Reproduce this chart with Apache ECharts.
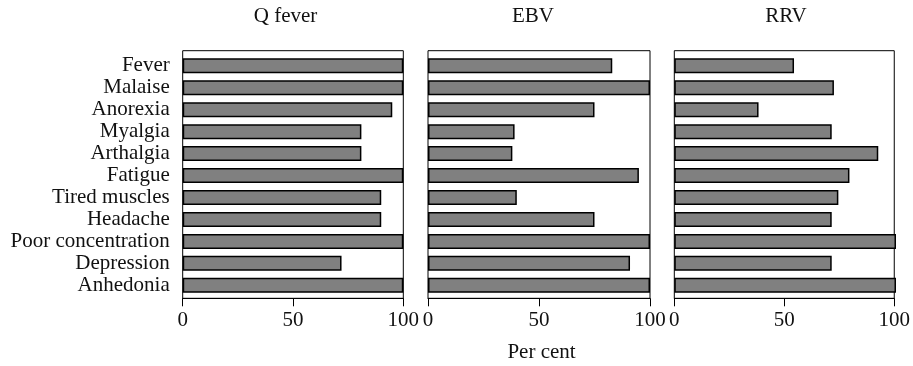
<!DOCTYPE html>
<html>
<head>
<meta charset="utf-8">
<script src="https://cdn.jsdelivr.net/npm/echarts@6/dist/echarts.min.js"></script>
<style>html,body{margin:0;padding:0;background:#fff}#c{width:913px;height:366px}</style>
</head>
<body>
<div id="c"></div>
<script>
const categories = ['Fever','Malaise','Anorexia','Myalgia','Arthalgia','Fatigue','Tired muscles','Headache','Poor concentration','Depression','Anhedonia'];
const qFever = [100,100,95,81,81,100,90,90,100,72,100];
const ebv    = [83,100,75,39,38,95,40,75,100,91,100];
const rrv    = [54,72,38,71,92,79,74,71,100,71,100];
const panelTitles = ['Q fever','EBV','RRV'];
const xTicks = [0,50,100];

const FONT = 'Liberation Serif';
const panels = [
  {left:182.7, width:220.6, data:qFever},
  {left:428,   width:222,   data:ebv},
  {left:674.3, width:221.7, data:rrv}
];
const titleCenters = [285.5, 533, 786];

const chart = echarts.init(document.getElementById('c'), null, {renderer:'canvas'});
const grid = [], xAxis = [], yAxis = [], series = [], title = [];

panels.forEach((p, i) => {
  grid.push({left:p.left, width:p.width, top:50.7, height:247.6, show:true,
    borderColor:'#000', borderWidth:1, backgroundColor:'transparent'});
  grid.push({left:p.left, width:p.width, top:54.8, height:241.5});
  const fg = 2*i, bg = 2*i+1;
  xAxis.push({gridIndex:fg, type:'value', min:xTicks[0], max:xTicks[xTicks.length-1], interval:50,
    axisLine:{show:true, lineStyle:{color:'#000', width:1}},
    axisTick:{show:true, length:8, lineStyle:{color:'#000', width:1}},
    splitLine:{show:false},
    axisLabel:{show:true, margin:12, color:'#111', fontFamily:FONT, fontSize:21,
      formatter: v => xTicks.includes(v) ? String(v) : ''}});
  yAxis.push({gridIndex:fg, type:'value', show:false});
  xAxis.push({gridIndex:bg, type:'value', min:0, max:100, show:false});
  yAxis.push({gridIndex:bg, type:'category', data:categories, inverse:true,
    axisLine:{show:false}, axisTick:{show:false},
    axisLabel:{show:i===0, interval:0, margin:13, color:'#111', fontFamily:FONT, fontSize:21}});
  series.push({type:'bar', xAxisIndex:2*i+1, yAxisIndex:2*i+1, data:p.data, barWidth:15,
    itemStyle:{color:'#808080', borderColor:'#000', borderWidth:1.5}, silent:true, animation:false});
  title.push({text:panelTitles[i], left:titleCenters[i]-5, top:1, textAlign:'center',
    textStyle:{fontFamily:FONT, fontSize:21, fontWeight:'normal', color:'#111'}});
});
title.push({text:'Per cent', left:536.5, top:337, textAlign:'center',
  textStyle:{fontFamily:FONT, fontSize:21, fontWeight:'normal', color:'#111'}});

chart.setOption({animation:false, title, grid, xAxis, yAxis, series});
</script>
</body>
</html>
